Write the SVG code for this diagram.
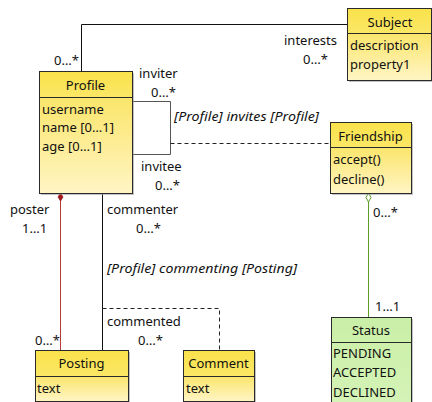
<svg xmlns="http://www.w3.org/2000/svg" width="432" height="402" viewBox="0 0 432 402">
<defs>
<linearGradient id="yh" x1="0" y1="0" x2="0" y2="1"><stop offset="0" stop-color="#f9e24a"/><stop offset="1" stop-color="#fbe766"/></linearGradient>
<linearGradient id="yb" x1="0" y1="0" x2="0" y2="1"><stop offset="0" stop-color="#fbe56a"/><stop offset="1" stop-color="#fff5c4"/></linearGradient>
<linearGradient id="gh" x1="0" y1="0" x2="0" y2="1"><stop offset="0" stop-color="#c9eea6"/><stop offset="1" stop-color="#cdf0ab"/></linearGradient>
<linearGradient id="gb" x1="0" y1="0" x2="0" y2="1"><stop offset="0" stop-color="#cdf0ab"/><stop offset="1" stop-color="#d4f3b6"/></linearGradient>
</defs>
<style>
text{font-family:"Noto Sans","Open Sans","DejaVu Sans",sans-serif;font-size:13px;fill:#111}
.c{text-anchor:middle}
.e{text-anchor:end}
.i{font-style:italic}
.sh{fill:#999;opacity:0.6}
.box{stroke:#2a2a2a;stroke-width:1}
.ln{fill:none;stroke:#111;stroke-width:1}
.dash{fill:none;stroke:#222;stroke-width:1;stroke-dasharray:4,3}
</style>
<g id="edges">
<polyline class="ln" points="81.5,71 81.5,24.5 347,24.5"/>
<polyline points="132,101.5 170.5,101.5 170.5,154.5 132,154.5" fill="none" stroke="#555" stroke-width="1"/>
<line class="dash" x1="170.5" y1="143.5" x2="330" y2="143.5"/>
<line x1="60.5" y1="350" x2="60.5" y2="193" stroke="#b33a3a" stroke-width="1"/>
<polygon points="60.5,193 63,197 60.5,201 58,197" fill="#a01c1c" stroke="#a01c1c" stroke-width="0.8"/>
<line class="ln" x1="102.5" y1="193" x2="102.5" y2="350"/>
<polyline class="dash" points="102.5,308.5 219.5,308.5 219.5,350"/>
<line x1="368.5" y1="202" x2="368.5" y2="317" stroke="#5c9e24" stroke-width="1"/>
<polygon points="368.5,193 371,197.5 368.5,202 366,197.5" fill="#fff" stroke="#5c9e24" stroke-width="1"/>
<text class="e" x="79" y="65">0…*</text>
<text x="284" y="45">interests</text>
<text x="303" y="64">0…*</text>
<text x="139" y="78">inviter</text>
<text x="151" y="97">0…*</text>
<text class="i" x="174" y="121" textLength="145" lengthAdjust="spacingAndGlyphs">[Profile] invites [Profile]</text>
<text x="141" y="171">invitee</text>
<text x="155" y="190">0…*</text>
<text x="10" y="214">poster</text>
<text x="22" y="233">1…1</text>
<text x="35" y="345">0…*</text>
<text x="107" y="214">commenter</text>
<text x="136" y="233">0…*</text>
<text class="i" x="107" y="273" textLength="190" lengthAdjust="spacingAndGlyphs">[Profile] commenting [Posting]</text>
<text x="107" y="326">commented</text>
<text x="138" y="345">0…*</text>
<text x="373" y="217">0…*</text>
<text x="375" y="311">1…1</text>
</g>
<g id="Profile">
<rect class="sh" x="41" y="73" width="93" height="122"/>
<rect x="39" y="71" width="93" height="26" fill="url(#yh)"/>
<rect x="39" y="97" width="93" height="96" fill="url(#yb)"/>
<rect class="box" x="39.5" y="71.5" width="93" height="122" fill="none"/>
<line class="box" x1="39" y1="97.5" x2="132" y2="97.5"/>
<text class="c" x="85.5" y="90">Profile</text>
<text x="42" y="114">username</text>
<text x="42" y="132">name [0…1]</text>
<text x="42" y="151">age [0…1]</text>
</g>
<g id="Subject">
<rect class="sh" x="349" y="10" width="83" height="72"/>
<rect x="347" y="8" width="84" height="25" fill="url(#yh)"/>
<rect x="347" y="33" width="84" height="47" fill="url(#yb)"/>
<rect class="box" x="347.5" y="8.5" width="84" height="72" fill="none"/>
<line class="box" x1="347" y1="33.5" x2="431" y2="33.5"/>
<text class="c" x="390" y="27">Subject</text>
<text x="350" y="50">description</text>
<text x="350" y="69">property1</text>
</g>
<g id="Friendship">
<rect class="sh" x="332" y="124" width="81" height="71"/>
<rect x="330" y="122" width="81" height="25" fill="url(#yh)"/>
<rect x="330" y="147" width="81" height="46" fill="url(#yb)"/>
<rect class="box" x="330.5" y="122.5" width="81" height="71" fill="none"/>
<line class="box" x1="330" y1="147.5" x2="411" y2="147.5"/>
<text class="c" x="370.5" y="141">Friendship</text>
<text x="333" y="164">accept()</text>
<text x="333" y="184">decline()</text>
</g>
<g id="Posting">
<rect class="sh" x="37" y="352" width="93" height="52"/>
<rect x="35" y="350" width="93" height="26" fill="url(#yh)"/>
<rect x="35" y="376" width="93" height="25" fill="url(#yb)"/>
<rect class="box" x="35.5" y="350.5" width="93" height="51" fill="none"/>
<line class="box" x1="35" y1="376.5" x2="128" y2="376.5"/>
<text class="c" x="81.5" y="368">Posting</text>
<text x="37" y="393">text</text>
</g>
<g id="Comment">
<rect class="sh" x="185" y="352" width="71" height="52"/>
<rect x="183" y="350" width="71" height="26" fill="url(#yh)"/>
<rect x="183" y="376" width="71" height="25" fill="url(#yb)"/>
<rect class="box" x="183.5" y="350.5" width="71" height="51" fill="none"/>
<line class="box" x1="183" y1="376.5" x2="254" y2="376.5"/>
<text class="c" x="218.5" y="368">Comment</text>
<text x="186" y="393">text</text>
</g>
<g id="Status">
<rect class="sh" x="333" y="319" width="80" height="85"/>
<rect x="331" y="317" width="80" height="25" fill="url(#gh)"/>
<rect x="331" y="342" width="80" height="60" fill="url(#gb)"/>
<rect class="box" x="331.5" y="317.5" width="80" height="85" fill="none"/>
<line class="box" x1="331" y1="342.5" x2="411" y2="342.5"/>
<text class="c" x="371" y="335">Status</text>
<text x="333" y="358">PENDING</text>
<text x="333" y="377">ACCEPTED</text>
<text x="333" y="397">DECLINED</text>
</g>
</svg>
